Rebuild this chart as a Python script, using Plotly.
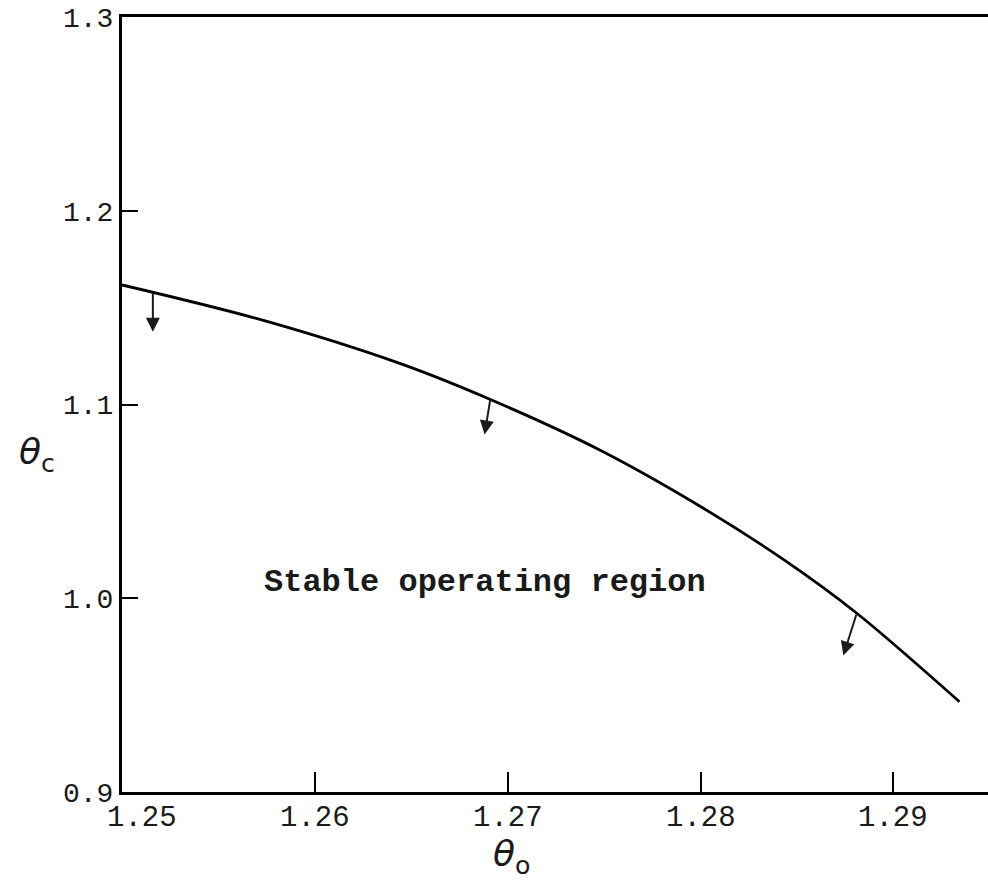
import plotly.graph_objects as go

# Stability boundary: theta_o (x) against theta_c (y)
theta_o = [1.25000, 1.25715, 1.26440, 1.26907, 1.27477, 1.27995, 1.28425, 1.28808, 1.29342]
theta_c = [1.1617, 1.1439, 1.1212, 1.1027, 1.0765, 1.0476, 1.0203, 0.9924, 0.9466]

# Arrows pointing into the stable side of the boundary (tail on curve -> head below)
arrow_tail_o = [1.2516, 1.2691, 1.2881]
arrow_tail_c = [1.1582, 1.1030, 0.9924]
arrow_head_o = [1.2516, 1.2688, 1.2874]
arrow_head_c = [1.1375, 1.0845, 0.9705]

x_ticks = [1.25, 1.26, 1.27, 1.28, 1.29]
x_tick_text = ["1.25", "1.26", "1.27", "1.28", "1.29"]
x_label_shift = [20, 0, 0, 0, 0]
y_ticks = [0.9, 1.0, 1.1, 1.2, 1.3]
y_tick_text = ["0.9", "1.0", "1.1", "1.2", "1.3"]

FONT = "Liberation Mono"
INK = "#1a1a1a"

fig = go.Figure()
fig.add_trace(go.Scatter(
    x=theta_o, y=theta_c, mode="lines",
    line=dict(color="black", width=2.8, shape="spline", smoothing=0.9),
    hoverinfo="skip", showlegend=False,
))

for xt, yt, xh, yh in zip(arrow_tail_o, arrow_tail_c, arrow_head_o, arrow_head_c):
    fig.add_annotation(
        x=xh, y=yh, ax=xt, ay=yt, xref="x", yref="y", axref="x", ayref="y",
        text="", showarrow=True, arrowhead=2, arrowsize=1.4, arrowwidth=2,
        arrowcolor=INK,
    )

fig.add_annotation(
    x=1.26881, y=1.0079, xref="x", yref="y", text="<b>Stable operating region</b>",
    showarrow=False, font=dict(family=FONT, size=32, color=INK),
)

# x tick labels, placed under each tick
for v, t, s in zip(x_ticks, x_tick_text, x_label_shift):
    fig.add_annotation(
        x=v, y=0, xref="x", yref="paper", text=t, showarrow=False,
        xanchor="center", yanchor="top", xshift=s, yshift=-8,
        font=dict(family=FONT, size=29, color=INK),
    )

# Axis titles
fig.add_annotation(
    x=-0.098, y=0.436, xref="paper", yref="paper",
    text="<i>θ</i><sub>c</sub>", showarrow=False, xanchor="center", yanchor="middle",
    font=dict(family="DejaVu Sans", size=36, color=INK),
)
fig.add_annotation(
    x=0.45, y=-0.083, xref="paper", yref="paper",
    text="<i>θ</i><sub>o</sub>", showarrow=False, xanchor="center", yanchor="middle",
    font=dict(family="DejaVu Sans", size=36, color=INK),
)

fig.update_xaxes(
    range=[1.25, 1.2949], tickmode="array", tickvals=x_ticks, showticklabels=False,
    ticks="inside", ticklen=20, tickwidth=2, tickcolor="black",
    showline=True, linewidth=3, linecolor="black", mirror=True,
    showgrid=False, zeroline=False,
)
fig.update_yaxes(
    range=[0.9, 1.3], tickmode="array", tickvals=y_ticks, ticktext=y_tick_text,
    ticks="inside", ticklen=16, tickwidth=2, tickcolor="black",
    showline=True, linewidth=3, linecolor="black", mirror=False,
    showgrid=False, zeroline=False,
    tickfont=dict(family=FONT, size=28, color=INK),
)

fig.update_layout(
    width=988, height=888,
    margin=dict(l=122, r=0, t=17, b=96),
    paper_bgcolor="white", plot_bgcolor="white",
    showlegend=False,
)

fig.write_html("out.html")
